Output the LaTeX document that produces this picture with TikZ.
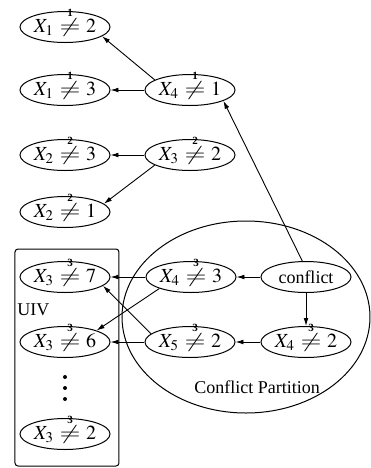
\documentclass[tikz,border=0pt]{standalone}
\usepackage{mathptmx}
\usepackage{graphicx}
\usepackage{fontspec}
\setmainfont{Liberation Serif}
\usetikzlibrary{shapes.geometric,arrows.meta}
\newcommand{\nlab}[3]{\makebox[0pt][c]{\fontsize{10}{12}\selectfont$X_{#1}\mathrel{\mkern1mu\ooalign{\scalebox{1.35}[1]{$\neq$}\cr\hidewidth\raisebox{8.0pt}[0pt][0pt]{\fontsize{5.5}{5.5}\selectfont\bfseries #2}\hidewidth\cr}\mkern1mu}#3$}}
\begin{document}
\begin{tikzpicture}[x=0.5pt,y=-0.5pt,
  font=\fontsize{9}{11}\selectfont,
  cnode/.style={ellipse,draw,line width=0.5pt,minimum width=45pt,minimum height=15.5pt,inner sep=0pt},
  arr/.style={-{Latex[length=4pt,width=2.4pt]},line width=0.45pt},
  dotn/.style={circle,fill,inner sep=0pt,minimum size=2pt}]
\useasboundingbox (0,0) rectangle (371,468);
% containers
\node[ellipse,draw,line width=0.5pt,minimum width=124pt,minimum height=96pt,inner sep=0pt] (part) at (246,317) {};
\node (partlab) at (257,387) {Conflict Partition};
\node[draw,line width=0.5pt,rounded corners=1.5pt,minimum width=52pt,minimum height=108.5pt,inner sep=0pt] (uiv) at (67,357.5) {};
\node[anchor=west,inner sep=0.5pt] (uivlab) at (16,310) {UIV};
% nodes
\node[cnode] (A) at (65,27) {\nlab{1}{1}{2}};
\node[cnode] (B) at (65,90) {\nlab{1}{1}{3}};
\node[cnode] (C) at (190,90) {\nlab{4}{1}{1}};
\node[cnode] (D) at (65,155) {\nlab{2}{2}{3}};
\node[cnode] (E) at (190,155) {\nlab{3}{2}{2}};
\node[cnode] (F) at (65,212) {\nlab{2}{2}{1}};
\node[cnode] (G) at (65,277) {\nlab{3}{3}{7}};
\node[cnode] (H) at (191,277) {\nlab{4}{3}{3}};
\node[cnode] (I) at (306,277) {conflict};
\node[cnode] (J) at (65,342) {\nlab{3}{3}{6}};
\node[cnode] (K) at (190,342) {\nlab{5}{3}{2}};
\node[cnode] (L) at (306,342) {\nlab{4}{3}{2}};
\node[dotn] (d1) at (65,377) {};
\node[dotn] (d2) at (65,388) {};
\node[dotn] (d3) at (65,399) {};
\node[cnode] (M) at (65,434) {\nlab{3}{3}{2}};
% edges
\draw[arr] (C.164) -- (A.-14);
\draw[arr] (C) -- (B);
\draw[arr] (E) -- (D);
\draw[arr] (E.196) -- (F.12);
\draw[arr] (I.103) -- (C.-18);
\draw[arr] (I) -- (H);
\draw[arr] (I) -- (L);
\draw[arr] (H) -- (G);
\draw[arr] (H.200) -- (J.20);
\draw[arr] (K.168) -- (G.-13);
\draw[arr] (K) -- (J);
\draw[arr] (L) -- (K);
\end{tikzpicture}
\end{document}
